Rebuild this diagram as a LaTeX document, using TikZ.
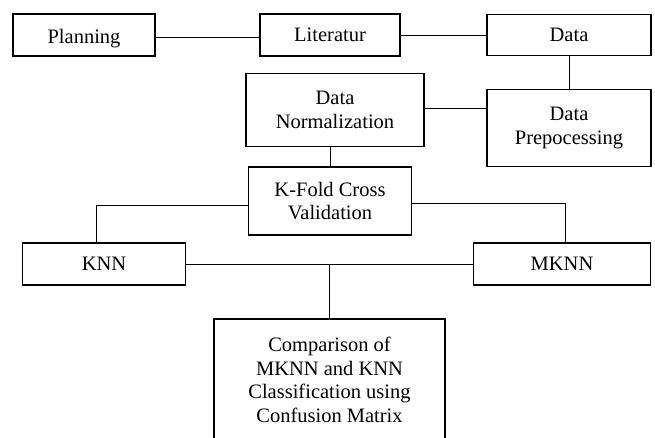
\documentclass[tikz,border=0pt]{standalone}
\usepackage{fontspec}
\setmainfont{Liberation Serif}
\usetikzlibrary{positioning}

\begin{document}
\begin{tikzpicture}[x=1pt, y=-1pt, thick, every node/.style={font=\fontsize{20.5}{23.5}\selectfont},
    stagebox/.style={rectangle, draw, line width=1.6pt, inner sep=0pt, align=center},
    link/.style={line width=0.8pt}]
    \useasboundingbox (0,0) rectangle (655,437);

    \node[stagebox, minimum width=142pt, minimum height=42pt] (planning) at (84,35) {\raisebox{-4pt}[\height][\depth]{Planning}};
    \node[stagebox, minimum width=140pt, minimum height=42pt] (literatur) at (330,35) {Literatur};
    \node[stagebox, minimum width=164pt, minimum height=41pt] (data) at (569,35) {Data};

    \node[stagebox, minimum width=178pt, minimum height=73pt] (norm) at (335,110) {Data\\Normalization};
    \node[stagebox, minimum width=164pt, minimum height=77pt] (prep) at (569,128) {Data\\Prepocessing};

    \node[stagebox, minimum width=163pt, minimum height=68pt] (kfold) at (330,201) {K-Fold Cross\\Validation};

    \node[stagebox, minimum width=163pt, minimum height=42pt] (knn) at (104,264) {KNN};
    \node[stagebox, minimum width=177pt, minimum height=42pt] (mknn) at (562,264) {MKNN};

    \node[stagebox, minimum width=231pt, minimum height=122pt] (comp) at (329.5,380) {Comparison of\\MKNN and KNN\\Classification using\\Confusion Matrix};

    \draw[link] ([yshift=-2pt]planning.east) -- ([yshift=-2pt]literatur.west);
    \draw[link] (literatur) -- (data);
    \draw[link] (data) -- (prep);
    \draw[link] ([yshift=2pt]norm.east) -- ([yshift=2pt]norm.east -| prep.west);
    \draw[link] (kfold.north) -- (kfold.north |- norm.south);
    \draw[link] ([yshift=-4pt]kfold.west) -| ([xshift=-8pt]knn.north);
    \draw[link] ([yshift=-2pt]kfold.east) -| ([xshift=3pt]mknn.north);
    \draw[link] (knn) -- (mknn);
    \draw[link] (comp.north) -- (comp.north |- knn.east);
\end{tikzpicture}
\end{document}
